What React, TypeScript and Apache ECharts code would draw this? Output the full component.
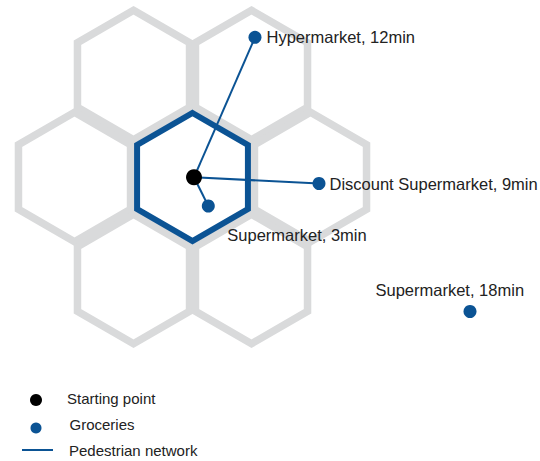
import React, { useEffect, useRef } from "react";
import * as echarts from "echarts";

// Map space: x 0..540, y 0..461 (y grows downward)
const hexRadius = 64.7;
const greyHexCenters: [number, number][] = [
  [133.5, 75],
  [251.5, 75],
  [74.5, 177],
  [310.5, 177],
  [133.5, 279],
  [251.5, 279],
];
const centralHex: [number, number] = [192.5, 177];
const centralHexRadius = 64;

const startPoint: [number, number] = [194, 177.3];

const groceryNames = [
  "Hypermarket, 12min",
  "Discount Supermarket, 9min",
  "Supermarket, 3min",
  "Supermarket, 18min",
];
const groceryPoints: [number, number][] = [
  [255, 37.3],
  [319, 183.5],
  [208.3, 206],
  [470, 311.5],
];
// which groceries are connected by the pedestrian network
const connected = [true, true, true, false];

const legendLabels = ["Starting point", "Groceries", "Pedestrian network"];

const BLUE = "#0b5394";
const GREY = "#d9dadb";
const TEXT = "#222222";
const FONT = "'Liberation Sans', Arial, sans-serif";

const labelPlacement: any[] = [
  { position: "right", distance: 5 },
  { position: "right", distance: 4 },
  { position: [25.5, 35.5], align: "left", verticalAlign: "middle" },
  { position: [-88, -15], align: "left", verticalAlign: "middle" },
];

export default function App() {
  const ref = useRef<HTMLDivElement>(null);
  useEffect(() => {
    document.body.style.margin = "0";
    const chart = echarts.init(ref.current!, null, { renderer: "svg" });

    const hexRender = (params: any, api: any) => {
      const cx = api.value(0);
      const cy = api.value(1);
      const r = api.value(2);
      const pts: number[][] = [];
      for (let k = 0; k < 6; k++) {
        const a = ((-90 + 60 * k) * Math.PI) / 180;
        pts.push(api.coord([cx + r * Math.cos(a), cy + r * Math.sin(a)]));
      }
      return {
        type: "polygon",
        shape: { points: pts },
        style: {
          fill: "none",
          stroke: api.value(3) === 1 ? BLUE : GREY,
          lineWidth: api.value(3) === 1 ? 6 : 7.5,
          lineJoin: "miter",
        },
      };
    };

    const hexData = greyHexCenters
      .map((c) => [c[0], c[1], hexRadius, 0])
      .concat([[centralHex[0], centralHex[1], centralHexRadius, 1]]);

    const lineData = groceryPoints
      .filter((_, i) => connected[i])
      .map((p) => ({ coords: [startPoint, p] }));

    const groceryData = groceryPoints.map((p, i) => ({
      name: groceryNames[i],
      value: p,
      label: {
        show: true,
        formatter: groceryNames[i],
        ...labelPlacement[i],
      },
    }));

    chart.setOption({
      animation: false,
      grid: { left: 0, right: 0, top: 0, bottom: 0 },
      xAxis: { type: "value", min: 0, max: 540, show: false },
      yAxis: { type: "value", min: 0, max: 461, inverse: true, show: false },
      series: [
        {
          type: "custom",
          renderItem: hexRender,
          data: hexData,
          clip: false,
          z: 1,
          silent: true,
        },
        {
          type: "lines",
          coordinateSystem: "cartesian2d",
          data: lineData,
          lineStyle: { color: BLUE, width: 2, opacity: 1, curveness: 0 },
          z: 2,
          silent: true,
        },
        {
          type: "scatter",
          data: groceryData,
          symbol: "circle",
          symbolSize: 13,
          itemStyle: { color: BLUE, opacity: 1 },
          label: {
            color: TEXT,
            fontSize: 16.5,
            fontFamily: FONT,
          },
          z: 3,
          silent: true,
        },
        {
          type: "scatter",
          data: [startPoint],
          symbol: "circle",
          symbolSize: 16,
          itemStyle: { color: "#000000", opacity: 1 },
          z: 4,
          silent: true,
        },
      ],
      graphic: [
        { type: "circle", shape: { cx: 36, cy: 400, r: 6 }, style: { fill: "#000" } },
        {
          type: "text",
          x: 67,
          y: 398.5,
          style: { text: legendLabels[0], fontSize: 15, fontFamily: FONT, fill: TEXT, verticalAlign: "middle" },
        },
        { type: "circle", shape: { cx: 36, cy: 428, r: 5.5 }, style: { fill: BLUE } },
        {
          type: "text",
          x: 69.5,
          y: 424.5,
          style: { text: legendLabels[1], fontSize: 15, fontFamily: FONT, fill: TEXT, verticalAlign: "middle" },
        },
        {
          type: "line",
          shape: { x1: 22, y1: 450, x2: 53, y2: 450 },
          style: { stroke: BLUE, lineWidth: 2 },
        },
        {
          type: "text",
          x: 69,
          y: 450,
          style: { text: legendLabels[2], fontSize: 15, fontFamily: FONT, fill: TEXT, verticalAlign: "middle" },
        },
      ],
    });
    return () => chart.dispose();
  }, []);
  return <div ref={ref} style={{ width: 540, height: 461 }} />;
}
